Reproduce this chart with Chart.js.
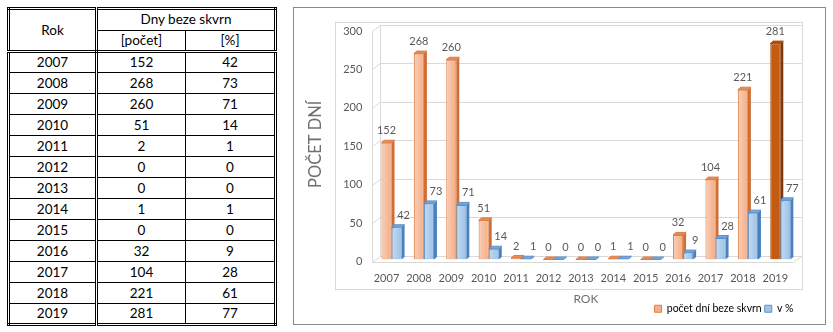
<!DOCTYPE html>
<html>
<head>
<meta charset="utf-8">
<script src="https://cdn.jsdelivr.net/npm/chart.js@4.4.1/dist/chart.umd.min.js"></script>
<style>
  body { margin: 0; background: #fff; font-family: Lato, 'Open Sans', sans-serif; }
  #tabulka {
    position: absolute; left: 7px; top: 7px;
    border-collapse: collapse; border: 3px double #000;
    table-layout: fixed; font-size: 13.5px; color: #000;
  }
  #tabulka td { border: 1px solid #000; padding: 0; text-align: center; line-height: 15px; }
  #tabulka thead tr { height: 21.5px; }
  #tabulka tbody tr { height: 21px; }
  #tabulka td.rok { border-right: 3px double #000; }
  #tabulka tr.spodek td { border-bottom: 3px double #000; }
  #graf {
    position: absolute; left: 293px; top: 7px;
    width: 531px; height: 316px; border: 1px solid #898989;
  }
</style>
</head>
<body>
<table id="tabulka">
  <colgroup><col style="width:88px"><col style="width:89px"><col style="width:90px"></colgroup>
  <thead>
    <tr><td class="rok" rowspan="2" style="border-bottom:3px double #000">Rok</td><td colspan="2">Dny beze skvrn</td></tr>
    <tr class="spodek"><td>[počet]</td><td>[%]</td></tr>
  </thead>
  <tbody id="telo"></tbody>
</table>
<div id="graf"><canvas id="c" width="531" height="316"></canvas></div>
<script>
const roky = ['2007', '2008', '2009', '2010', '2011', '2012', '2013', '2014', '2015', '2016', '2017', '2018', '2019'];
const pocetDni = [152, 268, 260, 51, 2, 0, 0, 1, 0, 32, 104, 221, 281];
const procentDni = [42, 73, 71, 14, 1, 0, 0, 1, 0, 9, 28, 61, 77];
const osaYMax = 300;
const osaYKrok = 50;

// tabulka vlevo
const telo = document.getElementById('telo');
roky.forEach((rok, i) => {
  const tr = document.createElement('tr');
  tr.innerHTML = `<td class="rok">${rok}</td><td>${pocetDni[i]}</td><td>${procentDni[i]}</td>`;
  telo.appendChild(tr);
});

const PISMO = "Lato, 'Open Sans', sans-serif";
const SEDA = '#595959';
const MRIZKA = '#d9d9d9';

const barvy = {
  oranz:  { front: '#f5b08a', edge: '#dd7d45', side: '#cf6f35', top: '#e58d58' },
  tmava:  { front: '#c55a11', edge: '#a84c0e', side: '#7f390a', top: '#a9500f' },
  modra:  { front: '#9fc4e8', edge: '#5b93cf', side: '#4b80bd', top: '#76a7d8' }
};
const posledni = roky.length - 1;
const barvaSloupce = (ds, i) => ds === 1 ? barvy.modra : (i === posledni ? barvy.tmava : barvy.oranz);

// posun předního a zadního okraje prostoru a hloubka sloupců
const predni = { dx: -3, dy: 2 };
const zadni = { dx: 5, dy: -4 };
const hloubka = { dx: 3, dy: -2.5 };

function cara(ctx, x1, y1, x2, y2) {
  ctx.beginPath();
  ctx.moveTo(x1, y1);
  ctx.lineTo(x2, y2);
  ctx.stroke();
}

const prostor3d = {
  id: 'prostor3d',
  beforeDatasetsDraw(chart) {
    const { ctx, chartArea: a, scales: { y } } = chart;
    const L = a.left, R = a.right, T = a.top, B = a.bottom;
    ctx.save();
    ctx.strokeStyle = MRIZKA;
    ctx.lineWidth = 1;
    // rámeček plochy grafu
    ctx.strokeRect(Math.round(L - 40) + 0.5, Math.round(T - 7) + 0.5,
      Math.round(R - L + 46), Math.round(B - T + 36));
    // mřížka na zadní a boční stěně
    y.ticks.forEach(t => {
      const py = Math.round(y.getPixelForValue(t.value));
      cara(ctx, L + zadni.dx, py + zadni.dy + 0.5, R + zadni.dx, py + zadni.dy + 0.5);
      cara(ctx, L + predni.dx, py + predni.dy + 0.5, L + zadni.dx, py + zadni.dy + 0.5);
    });
    cara(ctx, Math.round(L + predni.dx) + 0.5, T + predni.dy, Math.round(L + predni.dx) + 0.5, B + predni.dy);
    cara(ctx, Math.round(L + zadni.dx) + 0.5, T + zadni.dy, Math.round(L + zadni.dx) + 0.5, B + zadni.dy);
    cara(ctx, Math.round(R + zadni.dx) + 0.5, T + zadni.dy, Math.round(R + zadni.dx) + 0.5, B + zadni.dy);
    // podlaha
    const pb = Math.round(B) + predni.dy + 0.5;
    cara(ctx, L + predni.dx, pb, R + predni.dx, pb);
    cara(ctx, R + predni.dx, pb, R + zadni.dx, Math.round(B) + zadni.dy + 0.5);

    // boky a vršky sloupců
    const metas = [chart.getDatasetMeta(0), chart.getDatasetMeta(1)];
    const { dx, dy } = hloubka;
    for (let i = 0; i < roky.length; i++) {
      metas.forEach((meta, ds) => {
        const el = meta.data[i];
        if (!el) return;
        const p = el.getProps(['x', 'y', 'base', 'width'], true);
        const c = barvaSloupce(ds, i);
        const l = p.x - p.width / 2, r = p.x + p.width / 2;
        const t = Math.min(p.y, p.base), b = p.base;
        ctx.fillStyle = c.side;
        ctx.beginPath();
        ctx.moveTo(r, t); ctx.lineTo(r + dx, t + dy); ctx.lineTo(r + dx, b + dy); ctx.lineTo(r, b);
        ctx.closePath(); ctx.fill();
        ctx.fillStyle = c.top;
        ctx.strokeStyle = c.edge;
        ctx.beginPath();
        ctx.moveTo(l, t); ctx.lineTo(l + dx, t + dy); ctx.lineTo(r + dx, t + dy); ctx.lineTo(r, t);
        ctx.closePath(); ctx.fill(); ctx.stroke();
      });
    }
    ctx.restore();
  },
  afterDatasetsDraw(chart) {
    const { ctx } = chart;
    ctx.save();
    ctx.font = `11px ${PISMO}`;
    ctx.fillStyle = SEDA;
    ctx.textAlign = 'center';
    ctx.textBaseline = 'middle';
    [0, 1].forEach(ds => {
      const meta = chart.getDatasetMeta(ds);
      const hodnoty = chart.data.datasets[ds].data;
      meta.data.forEach((el, i) => {
        const p = el.getProps(['x', 'y', 'base', 'width'], true);
        const h = p.base - p.y;
        // lesk na přední stěně
        if (h > 2 && !(ds === 0 && i === posledni)) {
          const l = p.x - p.width / 2 + 1;
          const g = ctx.createLinearGradient(l, 0, p.x + p.width / 2 - 1, 0);
          g.addColorStop(0, 'rgba(255,255,255,0.35)');
          g.addColorStop(1, 'rgba(255,255,255,0)');
          ctx.save();
          ctx.fillStyle = g;
          ctx.fillRect(l, p.y + 1, p.width - 2, h - 2);
          ctx.restore();
        }
        ctx.fillText(String(hodnoty[i]), p.x + (ds === 1 ? 7 : 0), p.y - 12);
      });
    });
    ctx.restore();
  }
};

Chart.defaults.font.family = PISMO;

new Chart(document.getElementById('c'), {
  type: 'bar',
  plugins: [prostor3d],
  data: {
    labels: roky,
    datasets: [
      {
        label: 'počet dní beze skvrn',
        data: pocetDni,
        backgroundColor: ctx => barvaSloupce(0, ctx.dataIndex).front,
        borderColor: ctx => barvaSloupce(0, ctx.dataIndex).edge,
        borderWidth: 1,
        categoryPercentage: 0.62,
        barPercentage: 1
      },
      {
        label: 'v %',
        data: procentDni,
        backgroundColor: barvy.modra.front,
        borderColor: barvy.modra.edge,
        borderWidth: 1,
        categoryPercentage: 0.62,
        barPercentage: 1
      }
    ]
  },
  options: {
    responsive: false,
    animation: false,
    devicePixelRatio: 1,
    layout: { padding: { left: 0, right: 28.5, top: 21, bottom: 0 } },
    scales: {
      x: {
        offset: true,
        grid: { display: false, drawTicks: false },
        border: { display: false },
        ticks: { color: SEDA, font: { size: 11 }, padding: 12, labelOffset: -5, maxRotation: 0, autoSkip: false },
        title: { display: true, text: 'ROK', color: '#707070', font: { size: 12 }, padding: { top: 0, bottom: -6 } },
        afterFit: s => { s.height = 41; }
      },
      y: {
        min: 0,
        max: osaYMax,
        grid: { display: false, drawTicks: false },
        border: { display: false },
        ticks: { stepSize: osaYKrok, color: SEDA, font: { size: 11 }, padding: 13, labelOffset: 2 },
        title: { display: true, text: 'POČET DNÍ', color: '#707070', font: { size: 16.5 }, padding: { top: 12, bottom: 0 } },
        afterFit: s => { s.width = 81.3; }
      }
    },
    plugins: {
      tooltip: { enabled: false },
      legend: {
        position: 'bottom',
        align: 'end',
        labels: {
          boxWidth: 7,
          boxHeight: 7,
          padding: 3,
          color: SEDA,
          font: { size: 10.5 },
          generateLabels: () => [
            { text: 'počet dní beze skvrn', fillStyle: barvy.oranz.front, strokeStyle: barvy.oranz.edge, lineWidth: 1, datasetIndex: 0 },
            { text: 'v %', fillStyle: barvy.modra.front, strokeStyle: barvy.modra.edge, lineWidth: 1, datasetIndex: 1 }
          ]
        }
      }
    }
  }
});
</script>
</body>
</html>
